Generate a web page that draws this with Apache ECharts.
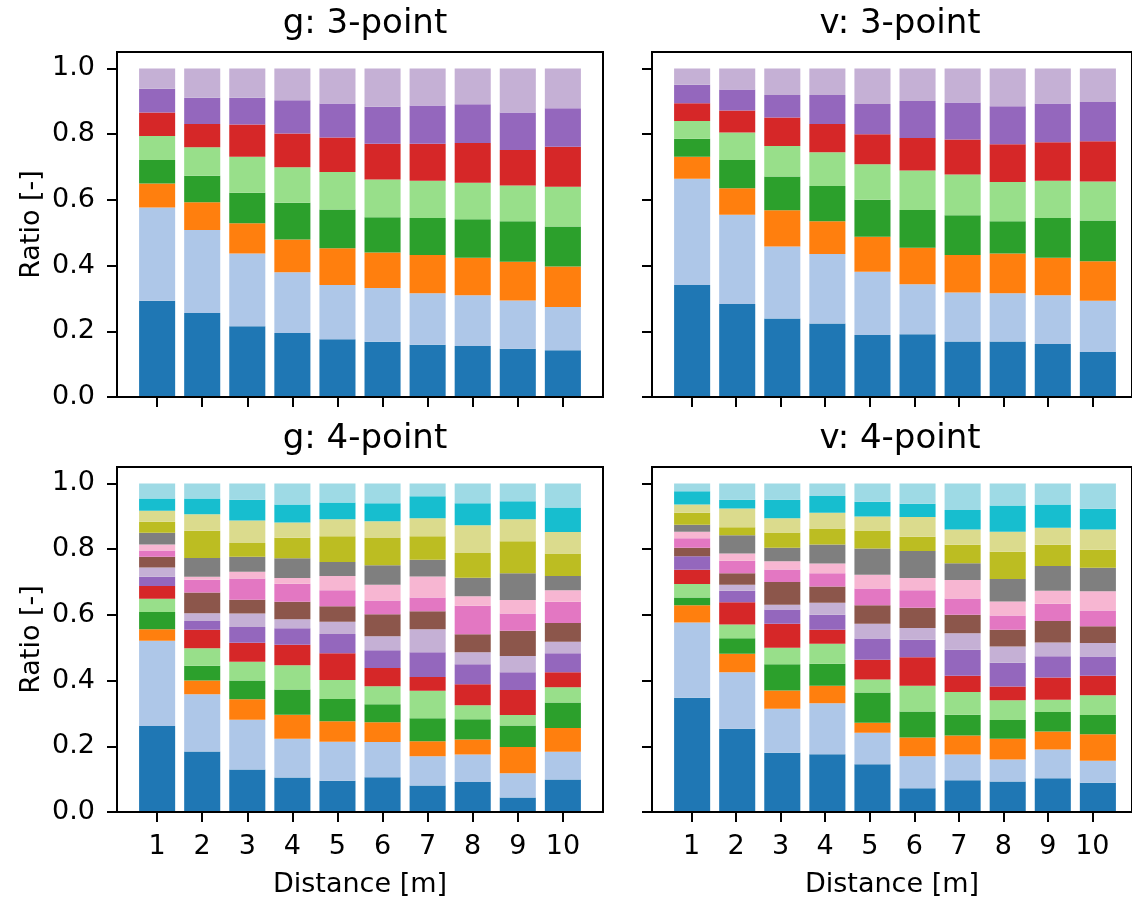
<!DOCTYPE html>
<html>
<head>
<meta charset="utf-8">
<title>Ratio by distance</title>
<script src="https://cdn.jsdelivr.net/npm/echarts@6/dist/echarts.min.js"></script>
<style>
  html, body { margin: 0; padding: 0; background: #fff; }
  #chart { width: 1132px; height: 900px; }
</style>
</head>
<body>
<div id="chart"></div>
<script>
// Distances (x categories) and y tick values
const distances = [1, 2, 3, 4, 5, 6, 7, 8, 9, 10];
const ratioTicks = [0, 0.2, 0.4, 0.6, 0.8, 1.0];

// Panel titles
const panelTitles = ['g: 3-point', 'v: 3-point', 'g: 4-point', 'v: 4-point'];

// Segment colours, bottom of the stack first
const colors3 = ['#1f77b4', '#aec7e8', '#ff7f0e', '#2ca02c', '#98df8a', '#d62728', '#9467bd', '#c5b0d5'];
const colors4 = colors3.concat(['#8c564b', '#e377c2', '#f7b6d2', '#7f7f7f', '#bcbd22', '#dbdb8d', '#17becf', '#9edae5']);

// g: 3-point — one row per stacked segment, one value per distance
const g3Shares = [
  [0.293, 0.256, 0.215, 0.195, 0.176, 0.168, 0.159, 0.155, 0.147, 0.142],
  [0.284, 0.252, 0.222, 0.185, 0.165, 0.164, 0.157, 0.155, 0.147, 0.132],
  [0.073, 0.085, 0.092, 0.099, 0.112, 0.108, 0.116, 0.114, 0.118, 0.123],
  [0.071, 0.080, 0.093, 0.112, 0.118, 0.107, 0.113, 0.117, 0.123, 0.122],
  [0.073, 0.087, 0.109, 0.108, 0.114, 0.115, 0.113, 0.111, 0.109, 0.121],
  [0.072, 0.071, 0.098, 0.103, 0.105, 0.109, 0.113, 0.121, 0.108, 0.122],
  [0.072, 0.080, 0.082, 0.101, 0.103, 0.112, 0.116, 0.118, 0.114, 0.117],
  [0.062, 0.089, 0.089, 0.097, 0.107, 0.117, 0.113, 0.109, 0.134, 0.121]
];

// v: 3-point
const v3Shares = [
  [0.341, 0.283, 0.239, 0.224, 0.189, 0.191, 0.169, 0.169, 0.161, 0.137],
  [0.323, 0.272, 0.219, 0.211, 0.192, 0.152, 0.149, 0.147, 0.149, 0.156],
  [0.067, 0.080, 0.110, 0.100, 0.107, 0.111, 0.114, 0.121, 0.114, 0.120],
  [0.055, 0.086, 0.103, 0.107, 0.112, 0.115, 0.121, 0.098, 0.121, 0.124],
  [0.054, 0.084, 0.093, 0.103, 0.108, 0.120, 0.124, 0.119, 0.113, 0.119],
  [0.054, 0.067, 0.087, 0.086, 0.092, 0.099, 0.107, 0.115, 0.117, 0.122],
  [0.056, 0.064, 0.068, 0.088, 0.092, 0.113, 0.112, 0.116, 0.118, 0.120],
  [0.050, 0.064, 0.081, 0.081, 0.108, 0.099, 0.104, 0.115, 0.107, 0.102]
];

// g: 4-point
const g4Shares = [
  [0.262, 0.184, 0.129, 0.105, 0.095, 0.106, 0.081, 0.091, 0.044, 0.099],
  [0.259, 0.174, 0.152, 0.118, 0.119, 0.107, 0.089, 0.084, 0.074, 0.084],
  [0.035, 0.042, 0.062, 0.073, 0.062, 0.060, 0.045, 0.046, 0.080, 0.073],
  [0.053, 0.045, 0.057, 0.077, 0.068, 0.055, 0.070, 0.061, 0.065, 0.077],
  [0.040, 0.053, 0.057, 0.074, 0.058, 0.055, 0.084, 0.043, 0.032, 0.047],
  [0.039, 0.057, 0.058, 0.062, 0.081, 0.055, 0.042, 0.064, 0.076, 0.045],
  [0.028, 0.026, 0.048, 0.050, 0.059, 0.054, 0.075, 0.061, 0.054, 0.058],
  [0.028, 0.024, 0.041, 0.028, 0.037, 0.043, 0.070, 0.036, 0.050, 0.035],
  [0.033, 0.063, 0.042, 0.053, 0.047, 0.067, 0.055, 0.055, 0.077, 0.057],
  [0.019, 0.039, 0.065, 0.055, 0.049, 0.042, 0.042, 0.087, 0.052, 0.065],
  [0.018, 0.009, 0.020, 0.017, 0.043, 0.048, 0.064, 0.029, 0.041, 0.035],
  [0.036, 0.057, 0.046, 0.060, 0.043, 0.059, 0.051, 0.056, 0.082, 0.043],
  [0.033, 0.083, 0.042, 0.063, 0.078, 0.083, 0.071, 0.075, 0.097, 0.069],
  [0.034, 0.050, 0.068, 0.046, 0.052, 0.051, 0.055, 0.085, 0.067, 0.065],
  [0.037, 0.048, 0.063, 0.055, 0.051, 0.055, 0.067, 0.067, 0.055, 0.075],
  [0.046, 0.046, 0.050, 0.064, 0.058, 0.060, 0.039, 0.060, 0.054, 0.073]
];

// v: 4-point
const v4Shares = [
  [0.348, 0.253, 0.180, 0.176, 0.145, 0.072, 0.097, 0.093, 0.103, 0.089],
  [0.229, 0.172, 0.134, 0.155, 0.096, 0.098, 0.078, 0.067, 0.087, 0.067],
  [0.052, 0.057, 0.056, 0.053, 0.031, 0.057, 0.058, 0.063, 0.055, 0.081],
  [0.024, 0.047, 0.080, 0.067, 0.092, 0.079, 0.063, 0.057, 0.059, 0.058],
  [0.041, 0.042, 0.050, 0.061, 0.039, 0.078, 0.069, 0.060, 0.038, 0.060],
  [0.043, 0.067, 0.073, 0.043, 0.060, 0.087, 0.050, 0.042, 0.067, 0.060],
  [0.041, 0.035, 0.043, 0.045, 0.065, 0.053, 0.079, 0.072, 0.065, 0.058],
  [0.000, 0.019, 0.015, 0.037, 0.045, 0.036, 0.050, 0.050, 0.042, 0.041],
  [0.026, 0.035, 0.069, 0.049, 0.056, 0.062, 0.056, 0.051, 0.065, 0.051],
  [0.029, 0.038, 0.038, 0.041, 0.051, 0.053, 0.050, 0.043, 0.053, 0.048],
  [0.020, 0.022, 0.025, 0.029, 0.042, 0.037, 0.056, 0.043, 0.039, 0.059],
  [0.021, 0.055, 0.041, 0.058, 0.080, 0.082, 0.051, 0.068, 0.076, 0.071],
  [0.037, 0.025, 0.047, 0.049, 0.055, 0.044, 0.056, 0.083, 0.064, 0.055],
  [0.025, 0.057, 0.043, 0.048, 0.042, 0.060, 0.047, 0.061, 0.052, 0.062],
  [0.040, 0.026, 0.056, 0.051, 0.045, 0.040, 0.059, 0.080, 0.071, 0.063],
  [0.024, 0.050, 0.050, 0.038, 0.056, 0.062, 0.081, 0.067, 0.064, 0.077]
];

const panels = [
  { shares: g3Shares, colors: colors3 },
  { shares: v3Shares, colors: colors3 },
  { shares: g4Shares, colors: colors4 },
  { shares: v4Shares, colors: colors4 }
];

const FONT = 'DejaVu Sans';
const TICK_SIZE = 27;
const PLOT_W = 486, PLOT_H = 345;
const LEFTS = [117, 652];
const TOPS = [52, 467];
// x range of each frame (bars span 0.6..10.4 plus a 5% margin)
const X_MIN = 0.11, X_MAX = 10.89;
const UNIT = PLOT_W / (X_MAX - X_MIN);

const chart = echarts.init(document.getElementById('chart'), null, { renderer: 'canvas' });

const grids = [], xAxes = [], yAxes = [], titles = [], series = [];

panels.forEach((panel, p) => {
  const col = p % 2, row = Math.floor(p / 2);
  const isBottom = row === 1, isLeft = col === 0;

  // Frame grid: box, ticks and tick labels on a continuous distance axis
  const frameIdx = grids.length;
  grids.push({
    left: LEFTS[col], top: TOPS[row], width: PLOT_W, height: PLOT_H,
    show: true, borderColor: '#000', borderWidth: 2, backgroundColor: 'transparent', z: 3
  });
  xAxes.push({
    gridIndex: frameIdx, type: 'value', min: X_MIN, max: X_MAX, z: 5,
    axisLine: { show: true, onZero: false, lineStyle: { color: '#000', width: 2 } },
    axisTick: { show: true, length: 10, customValues: distances, lineStyle: { color: '#000', width: 2 } },
    axisLabel: {
      show: isBottom, customValues: distances, margin: 21,
      fontFamily: FONT, fontSize: TICK_SIZE, color: '#000'
    },
    splitLine: { show: false },
    name: isBottom ? 'Distance [m]' : '',
    nameLocation: 'middle', nameGap: 59,
    nameTextStyle: { fontFamily: FONT, fontSize: TICK_SIZE, color: '#000' }
  });
  yAxes.push({
    gridIndex: frameIdx, type: 'value', min: 0, max: 1.05, z: 5,
    axisLine: { show: true, lineStyle: { color: '#000', width: 2 } },
    axisTick: { show: true, length: 10, customValues: ratioTicks, lineStyle: { color: '#000', width: 2 } },
    axisLabel: {
      show: isLeft, customValues: ratioTicks, margin: 22,
      formatter: v => v.toFixed(1),
      fontFamily: FONT, fontSize: TICK_SIZE, color: '#000'
    },
    splitLine: { show: false },
    name: isLeft ? 'Ratio [-]' : '',
    nameLocation: 'middle', nameGap: 72, nameRotate: 90,
    nameTextStyle: { fontFamily: FONT, fontSize: TICK_SIZE, color: '#000' }
  });

  // Bar grid: one category band per distance, aligned with the frame ticks
  const barIdx = grids.length;
  grids.push({
    left: LEFTS[col] + (distances[0] - 0.5 - X_MIN) * UNIT,
    top: TOPS[row],
    width: distances.length * UNIT,
    height: PLOT_H,
    show: false
  });
  xAxes.push({
    gridIndex: barIdx, type: 'category', data: distances.map(String), boundaryGap: true,
    axisLine: { show: false }, axisTick: { show: false }, axisLabel: { show: false },
    splitLine: { show: false }
  });
  yAxes.push({
    gridIndex: barIdx, type: 'value', min: 0, max: 1.05,
    axisLine: { show: false }, axisTick: { show: false }, axisLabel: { show: false },
    splitLine: { show: false }
  });

  titles.push({
    text: panelTitles[p],
    left: LEFTS[col] + PLOT_W / 2,
    top: TOPS[row] - 50,
    textAlign: 'center',
    textStyle: { fontFamily: FONT, fontSize: 34, fontWeight: 'normal', color: '#000' }
  });

  panel.shares.forEach((values, i) => {
    series.push({
      type: 'bar',
      xAxisIndex: barIdx, yAxisIndex: barIdx,
      stack: 'panel' + p,
      barWidth: '80%',
      itemStyle: { color: panel.colors[i] },
      emphasis: { disabled: true },
      data: values
    });
  });
});

chart.setOption({
  animation: false,
  backgroundColor: '#fff',
  title: titles,
  grid: grids,
  xAxis: xAxes,
  yAxis: yAxes,
  series: series
});
</script>
</body>
</html>
